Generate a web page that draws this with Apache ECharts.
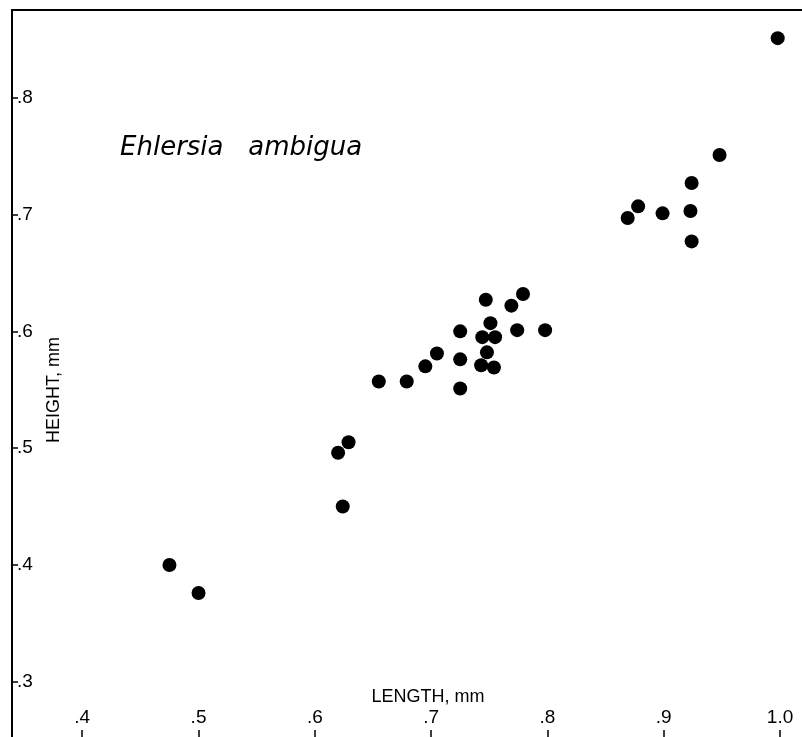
<!DOCTYPE html>
<html>
<head>
<meta charset="utf-8">
<script src="https://cdn.jsdelivr.net/npm/echarts@6/dist/echarts.min.js"></script>
<style>
html,body{margin:0;padding:0;background:#fff;}
#c{width:802px;height:737px;}
</style>
</head>
<body>
<div id="c"></div>
<script>
// Data (length mm, height mm)
const lengths = [0.475, 0.500, 0.629, 0.620, 0.624,
  0.655, 0.679, 0.695, 0.705, 0.725, 0.725, 0.725,
  0.747, 0.769, 0.779, 0.751, 0.744, 0.755, 0.774, 0.798,
  0.748, 0.743, 0.754,
  0.948, 0.924, 0.878, 0.869, 0.899, 0.923, 0.924,
  0.998];
const heights = [0.400, 0.376, 0.505, 0.496, 0.450,
  0.557, 0.557, 0.570, 0.581, 0.551, 0.576, 0.600,
  0.627, 0.622, 0.632, 0.607, 0.595, 0.595, 0.601, 0.601,
  0.582, 0.571, 0.569,
  0.751, 0.727, 0.707, 0.697, 0.701, 0.703, 0.677,
  0.851];
const xTicks = [0.4, 0.5, 0.6, 0.7, 0.8, 0.9, 1.0];
const yTicks = [0.3, 0.4, 0.5, 0.6, 0.7, 0.8];
const titleText = 'Ehlersia   ambigua';
const xName = 'LENGTH, mm';
const yName = 'HEIGHT, mm';

const fmt = v => (Math.abs(v - 1) < 1e-9 ? '1.0' : '.' + Math.round(v * 10));
const font = '"Liberation Sans", Arial, sans-serif';

const chart = echarts.init(document.getElementById('c'), null, {renderer: 'canvas'});
chart.setOption({
  backgroundColor: '#fff',
  animation: false,
  title: {
    text: titleText,
    left: 115, top: 130,
    textStyle: {fontFamily: '"DejaVu Sans", sans-serif', fontStyle: 'italic', fontWeight: 'normal', fontSize: 26, color: '#000'}
  },
  grid: {left: 12, top: 10, right: 0, bottom: 0},
  xAxis: [{
    type: 'value', min: 0.3396, max: 1.0189, position: 'bottom',
    splitLine: {show: false},
    axisLine: {show: false},
    axisTick: {show: true, inside: true, length: 7, customValues: xTicks, lineStyle: {color: '#000', width: 1.5}},
    axisLabel: {show: true, inside: true, margin: 10, customValues: xTicks, formatter: fmt,
      fontFamily: font, fontSize: 19, color: '#000'}
  }, {
    type: 'value', min: 0.3396, max: 1.0189, position: 'top',
    splitLine: {show: false},
    axisLine: {show: true, onZero: false, lineStyle: {color: '#000', width: 2}},
    axisTick: {show: false}, axisLabel: {show: false}
  }],
  yAxis: {
    type: 'value', min: 0.2527, max: 0.8751,
    splitLine: {show: false},
    axisLine: {show: true, onZero: false, lineStyle: {color: '#000', width: 2}},
    axisTick: {show: true, inside: true, length: 6, customValues: yTicks, lineStyle: {color: '#000', width: 1.5}},
    axisLabel: {show: true, inside: true, margin: 5, customValues: yTicks, formatter: fmt,
      fontFamily: font, fontSize: 19, color: '#000'}
  },
  graphic: [{
    type: 'text', x: 428, y: 697,
    style: {text: xName, fontFamily: font, fontSize: 18, fill: '#000', align: 'center', verticalAlign: 'middle'}
  }, {
    type: 'text', x: 54, y: 390, rotation: Math.PI / 2,
    style: {text: yName, fontFamily: font, fontSize: 18, fill: '#000', align: 'center', verticalAlign: 'middle'}
  }],
  series: [{
    type: 'scatter',
    xAxisIndex: 0,
    symbol: 'circle', symbolSize: 14,
    itemStyle: {color: '#000', opacity: 1},
    data: lengths.map((x, i) => [x, heights[i]])
  }]
});
</script>
</body>
</html>
